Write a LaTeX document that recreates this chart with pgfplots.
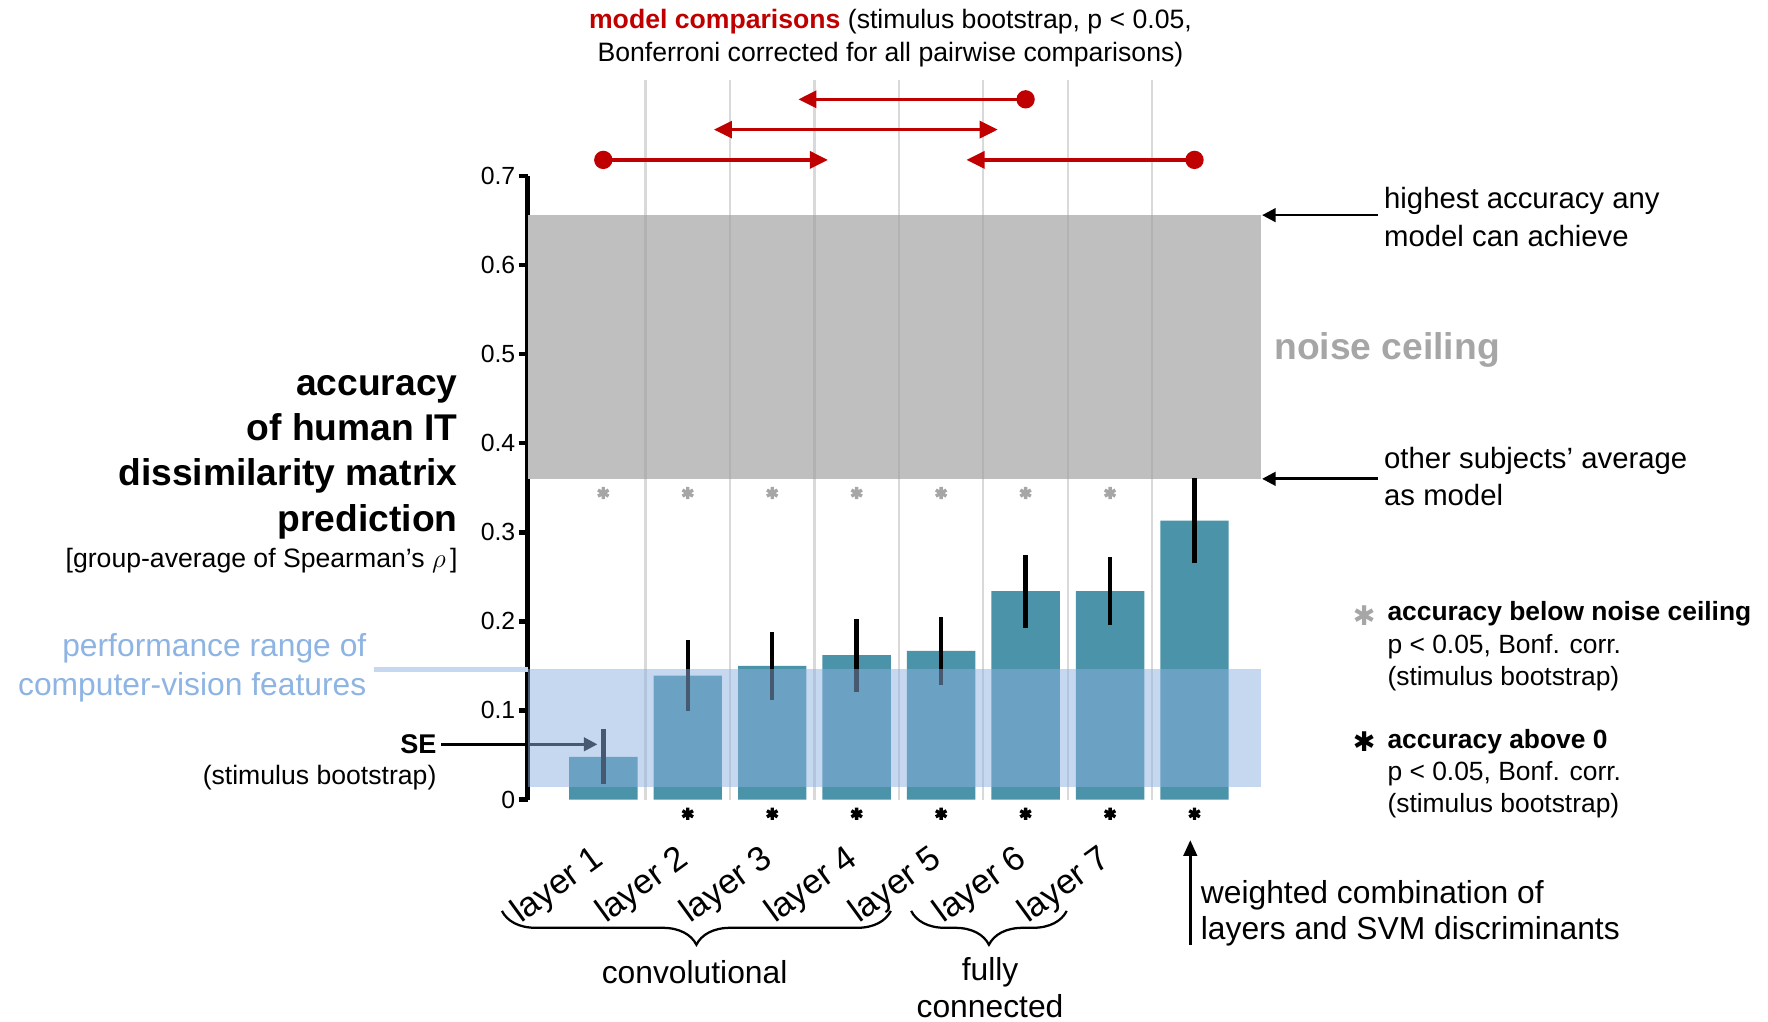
\documentclass[border=0pt]{standalone}
\usepackage{pgfplots}
\pgfplotsset{compat=1.18}
\usepackage{pgfplotstable}
\usepackage{fontspec}
\setmainfont{Liberation Sans}
\newfontfamily\symfont{DejaVu Sans}
\usetikzlibrary{arrows.meta,decorations.pathreplacing}

\definecolor{barteal}{RGB}{74,147,168}
\definecolor{bandblue}{RGB}{140,178,224}
\definecolor{bandlight}{RGB}{197,216,239}
\definecolor{cvtext}{RGB}{141,180,226}
\definecolor{noisegray}{RGB}{191,191,191}
\definecolor{noisetext}{RGB}{166,166,166}
\definecolor{sigred}{RGB}{192,0,0}
\definecolor{gridgray}{RGB}{160,160,160}
\definecolor{stargray}{RGB}{166,166,166}

% model accuracies with standard errors (stimulus bootstrap)
\pgfplotstableread{
x y e
1 0.048 0.031
2 0.139 0.040
3 0.150 0.038
4 0.162 0.041
5 0.167 0.038
6 0.234 0.041
7 0.234 0.038
8 0.313 0.048
}\accdata

% significance markers
\pgfplotstableread{
x y
1 0.344
2 0.344
3 0.344
4 0.344
5 0.344
6 0.344
7 0.344
}\belowceiling
\pgfplotstableread{
x y
2 -0.016
3 -0.016
4 -0.016
5 -0.016
6 -0.016
7 -0.016
8 -0.016
}\abovezero

\newcommand{\fs}[2]{\fontsize{#1}{#2}\selectfont}

\begin{document}
\begin{tikzpicture}
\begin{axis}[
  scale only axis,
  width=325pt, height=276.5pt,
  xmin=0.1055, xmax=8.784,
  ymin=0, ymax=0.7,
  clip=false,
  axis y line=left,
  axis x line=none,
  y axis line style={-, line width=2pt},
  ytick={0,0.1,0.2,0.3,0.4,0.5,0.6,0.7},
  yticklabels={0,0.1,0.2,0.3,0.4,0.5,0.6,0.7},
  tick align=outside,
  major tick length=4pt,
  ytick style={line width=2pt, black},
  yticklabel style={font=\fs{11}{13}, xshift=2pt},
  /pgf/number format/assume math mode=true,
]

% noise ceiling
\addplot[fill=noisegray, draw=none] coordinates
  {(0.1055,0.360) (8.784,0.360) (8.784,0.656) (0.1055,0.656)} -- cycle;

% separators between models
\foreach \g in {1.5,2.5,3.5,4.5,5.5,6.5,7.5}{
  \edef\tmp{\noexpand\draw[gridgray, opacity=0.4, line width=1pt]
    (axis cs:\g,0) -- (axis cs:\g,0.808);}\tmp
}

% SE pointer
\draw[line width=1.2pt, -{Triangle[length=6pt,width=6pt]}]
  (axis cs:-0.917,0.062) -- (axis cs:0.93,0.062);

% bars with error bars
\addplot[ybar, bar width=0.81, fill=barteal, draw=none,
  error bars/.cd, y dir=both, y explicit, error mark=none,
  error bar style={line width=2pt, black}]
  table[x=x, y=y, y error=e] {\accdata};

% performance range of computer-vision features
\addplot[fill=bandblue, fill opacity=0.5, draw=none] coordinates
  {(0.1055,0.0138) (8.784,0.0138) (8.784,0.147) (0.1055,0.147)} -- cycle;
\draw[bandlight, line width=2.5pt] (axis cs:-1.71,0.146) -- (axis cs:0.1055,0.146);

% significance asterisks
\addplot[only marks, mark=asterisk, mark size=2.7pt, line width=1.5pt, stargray]
  table[x=x, y=y] {\belowceiling};
\addplot[only marks, mark=asterisk, mark size=2.7pt, line width=1.5pt, black]
  table[x=x, y=y] {\abovezero};

% pairwise model comparisons
\addplot[sigred, line width=1.5pt, -{Triangle[length=8pt,width=7.5pt]},
  mark=*, mark size=3.3pt, mark indices={1}, mark options={solid}]
  coordinates {(6,0.786) (3.31,0.786)};
\addplot[sigred, line width=1.5pt,
  {Triangle[length=8pt,width=7.5pt]}-{Triangle[length=8pt,width=7.5pt]}]
  coordinates {(2.31,0.752) (5.67,0.752)};
\addplot[sigred, line width=1.5pt, -{Triangle[length=8pt,width=7.5pt]},
  mark=*, mark size=3.3pt, mark indices={1}, mark options={solid}]
  coordinates {(1,0.718) (3.66,0.718)};
\addplot[sigred, line width=1.5pt, -{Triangle[length=8pt,width=7.5pt]},
  mark=*, mark size=3.3pt, mark indices={1}, mark options={solid}]
  coordinates {(8,0.718) (5.30,0.718)};

% title
\node[align=center, font=\fs{11.8}{14.5}] at (axis cs:4.40,0.855)
  {\textcolor{sigred}{\textbf{model comparisons}} (stimulus bootstrap, p < 0.05,\\
   Bonferroni corrected for all pairwise comparisons)};

% y-axis title
\node[anchor=east, align=right, inner sep=0pt, font=\bfseries\fs{16.5}{20}]
  at (axis cs:-0.72,0.3842) {accuracy\\of human IT\\dissimilarity matrix\\prediction};
\node[anchor=east, inner sep=0pt, font=\fs{11.8}{14}]
  at (axis cs:-0.72,0.268) {[group-average of Spearman's $\rho$\,]};

% computer-vision label
\node[anchor=east, align=right, inner sep=0pt, text=cvtext, font=\fs{14.1}{17}]
  at (axis cs:-1.80,0.148) {performance range of\\computer-vision features};

% SE label
\node[anchor=east, inner sep=0pt, font=\bfseries\fs{12}{14}] at (axis cs:-0.97,0.062) {SE};
\node[anchor=east, inner sep=0pt, font=\fs{11.8}{14}] at (axis cs:-0.97,0.025) {(stimulus bootstrap)};

% noise ceiling annotations
\draw[line width=1.2pt, -{Triangle[length=6pt,width=6pt]}]
  (axis cs:10.172,0.656) -- (axis cs:8.80,0.656);
\draw[line width=1.2pt, -{Triangle[length=6pt,width=6pt]}]
  (axis cs:10.172,0.360) -- (axis cs:8.80,0.360);
\node[anchor=west, align=left, inner sep=0pt, font=\fs{13}{16.5}]
  at (axis cs:10.24,0.654) {highest accuracy any\\model can achieve};
\node[anchor=west, align=left, inner sep=0pt, font=\fs{13}{16.5}]
  at (axis cs:10.24,0.363) {other subjects' average\\as model};
\node[anchor=west, inner sep=0pt, text=noisetext, font=\bfseries\fs{16.5}{20}]
  at (axis cs:8.94,0.505) {noise ceiling};

% significance key
\node[anchor=center, inner sep=0pt, text=stargray, font=\symfont\fs{12}{14}]
  at (axis cs:10.01,0.207) {✱};
\node[anchor=west, align=left, inner sep=0pt, font=\fs{11.7}{14.3}]
  at (axis cs:10.28,0.172) {\textbf{accuracy below noise ceiling}\\p < 0.05, Bonf. corr.\\(stimulus bootstrap)};
\node[anchor=center, inner sep=0pt, text=black, font=\symfont\fs{12}{14}]
  at (axis cs:10.01,0.0646) {✱};
\node[anchor=west, align=left, inner sep=0pt, font=\fs{11.7}{14.3}]
  at (axis cs:10.28,0.0291) {\textbf{accuracy above 0}\\p < 0.05, Bonf. corr.\\(stimulus bootstrap)};

% layer names
\foreach \k in {1,...,7}{
  \edef\tmp{\noexpand\node[anchor=base east, rotate=36, inner sep=0pt, font=\noexpand\fs{15.3}{17}]
    at (axis cs:\k+0.03,-0.0709) {layer \k};}\tmp
}

% layer groups
\draw[line width=1pt, decorate, decoration={brace, mirror, amplitude=15pt, aspect=0.5}]
  (axis cs:-0.20,-0.125) -- (axis cs:4.405,-0.125);
\draw[line width=1pt, decorate, decoration={brace, mirror, amplitude=15pt, aspect=0.5}]
  (axis cs:4.645,-0.125) -- (axis cs:6.487,-0.125);
\node[font=\fs{14.1}{16}] at (axis cs:2.081,-0.1937) {convolutional};
\node[align=center, font=\fs{14.1}{16.5}] at (axis cs:5.579,-0.2115) {fully\\connected};

% combined model pointer
\draw[line width=1.2pt, -{Triangle[length=7pt,width=6pt]}]
  (axis cs:7.95,-0.163) -- (axis cs:7.95,-0.0456);
\node[anchor=west, align=left, inner sep=0pt, font=\fs{14.1}{16}]
  at (axis cs:8.07,-0.128) {weighted combination of\\layers and SVM discriminants};

\coordinate (bbsw) at (axis cs:-6.143,-0.2494);
\coordinate (bbne) at (axis cs:14.79,0.8975);
\end{axis}
\pgfresetboundingbox
\useasboundingbox (bbsw) rectangle (bbne);
\end{tikzpicture}
\end{document}
